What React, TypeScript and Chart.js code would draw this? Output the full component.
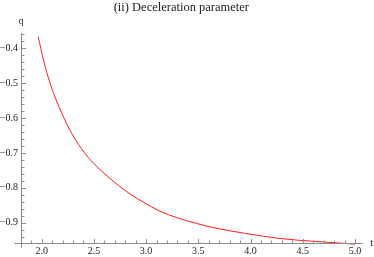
import React, { useEffect, useRef } from "react";
import { Chart, registerables } from "chart.js";

Chart.register(...registerables);

const titleText = "(ii) Deceleration parameter";
const xAxisLabel = "t";
const yAxisLabel = "q";

const tValues = [1.967, 2.015, 2.063, 2.111, 2.192, 2.271, 2.351, 2.463, 2.654, 2.814, 2.973, 3.133, 3.293, 3.485, 3.644, 3.964, 4.283, 4.602, 5.0];
const qValues = [-0.368, -0.431, -0.484, -0.527, -0.586, -0.635, -0.675, -0.719, -0.773, -0.811, -0.841, -0.867, -0.885, -0.902, -0.914, -0.931, -0.945, -0.953, -0.961];

const xMajorTicks = [2.0, 2.5, 3.0, 3.5, 4.0, 4.5, 5.0];
const yMajorTicks = [-0.9, -0.8, -0.7, -0.6, -0.5, -0.4];

const xRange = { min: 1.802, max: 5.074, axisStart: 1.737 };
const yRange = { min: -0.957, max: -0.357, axisStart: -0.973 };

const xTickValues: number[] = [];
for (let i = 19; i <= 50; i++) xTickValues.push(i / 10);
const yTickValues: number[] = [];
for (let i = -47; i <= -18; i++) yTickValues.push(i / 50);

const isMajor = (v: number, majors: number[]) => majors.some((m) => Math.abs(m - v) < 1e-6);
const fmt = (v: number) => (v < 0 ? "\u2212" + Math.abs(v).toFixed(1) : v.toFixed(1));

const SERIF = "'Liberation Serif', 'Times New Roman', serif";
const AXIS_COLOR = "#8c8c8c";
const TEXT_COLOR = "#222";

const axesPlugin = {
  id: "mmaAxes",
  afterDraw(chart: any) {
    const { ctx, chartArea, scales } = chart;
    const xs = scales.x;
    const ys = scales.y;
    const x0 = xs.getPixelForValue(xRange.min);
    const y0 = ys.getPixelForValue(yRange.min);
    ctx.save();
    ctx.strokeStyle = AXIS_COLOR;
    ctx.lineWidth = 1;
    ctx.beginPath();
    ctx.moveTo(xs.getPixelForValue(xRange.axisStart), Math.round(y0) + 0.5);
    ctx.lineTo(chartArea.right, Math.round(y0) + 0.5);
    ctx.moveTo(Math.round(x0) + 0.5, chartArea.top);
    ctx.lineTo(Math.round(x0) + 0.5, ys.getPixelForValue(yRange.axisStart));
    ctx.stroke();
    ctx.beginPath();
    xs.ticks.forEach((t: any) => {
      const px = Math.round(xs.getPixelForValue(t.value)) + 0.5;
      const len = isMajor(t.value, xMajorTicks) ? 4 : 2.5;
      ctx.moveTo(px, Math.round(y0));
      ctx.lineTo(px, Math.round(y0) - len);
    });
    ys.ticks.forEach((t: any) => {
      const py = Math.round(ys.getPixelForValue(t.value)) + 0.5;
      const len = isMajor(t.value, yMajorTicks) ? 4 : 2.5;
      ctx.moveTo(Math.round(x0) + 1, py);
      ctx.lineTo(Math.round(x0) + 1 + len, py);
    });
    ctx.stroke();
    ctx.fillStyle = TEXT_COLOR;
    ctx.font = `10px ${SERIF}`;
    ctx.textAlign = "center";
    ctx.textBaseline = "middle";
    ctx.fillText(yAxisLabel, x0, chartArea.top - 12);
    ctx.fillText(xAxisLabel, chartArea.right + 9, y0 + 1);
    ctx.restore();
  },
};

export default function App() {
  const canvasRef = useRef<HTMLCanvasElement | null>(null);

  useEffect(() => {
    if (!canvasRef.current) return;
    const data = tValues.map((t, i) => ({ x: t, y: qValues[i] }));
    const chart = new Chart(canvasRef.current, {
      type: "line",
      data: {
        datasets: [
          {
            data,
            borderColor: "#ff1a1a",
            borderWidth: 1,
            pointRadius: 0,
            fill: false,
            cubicInterpolationMode: "monotone",
            clip: false as any,
          },
        ],
      },
      options: {
        responsive: false,
        animation: false,
        devicePixelRatio: 1,
        layout: { padding: { top: 0, right: 11.3, bottom: 0, left: 0 } },
        plugins: {
          legend: { display: false },
          tooltip: { enabled: false },
          title: {
            display: true,
            text: titleText,
            color: TEXT_COLOR,
            font: { family: SERIF, size: 12.5, weight: "normal", lineHeight: 1.2 },
            padding: { top: 0, bottom: 18 },
          },
        },
        scales: {
          x: {
            type: "linear",
            min: xRange.min,
            max: xRange.max,
            border: { display: false },
            grid: { display: false, drawTicks: false },
            afterBuildTicks: (s: any) => {
              s.ticks = xTickValues.map((v) => ({ value: v }));
            },
            afterFit: (s: any) => {
              s.height = 14.3;
            },
            ticks: {
              autoSkip: false,
              maxRotation: 0,
              minRotation: 0,
              padding: 3,
              color: TEXT_COLOR,
              font: { family: SERIF, size: 10 },
              callback: (v: any) => (isMajor(Number(v), xMajorTicks) ? fmt(Number(v)) : ""),
            },
          },
          y: {
            type: "linear",
            min: yRange.min,
            max: yRange.max,
            border: { display: false },
            grid: { display: false, drawTicks: false },
            afterBuildTicks: (s: any) => {
              s.ticks = yTickValues.map((v) => ({ value: v }));
            },
            afterFit: (s: any) => {
              s.width = 21;
            },
            ticks: {
              autoSkip: false,
              padding: 3,
              color: TEXT_COLOR,
              font: { family: SERIF, size: 10 },
              callback: (v: any) => (isMajor(Number(v), yMajorTicks) ? fmt(Number(v)) : ""),
            },
          },
        },
      },
      plugins: [axesPlugin],
    });
    return () => chart.destroy();
  }, []);

  return (
    <div style={{ position: "absolute", left: 0, top: 0, width: 374, height: 257, background: "#fff" }}>
      <canvas ref={canvasRef} width={374} height={257} style={{ display: "block" }} />
    </div>
  );
}
